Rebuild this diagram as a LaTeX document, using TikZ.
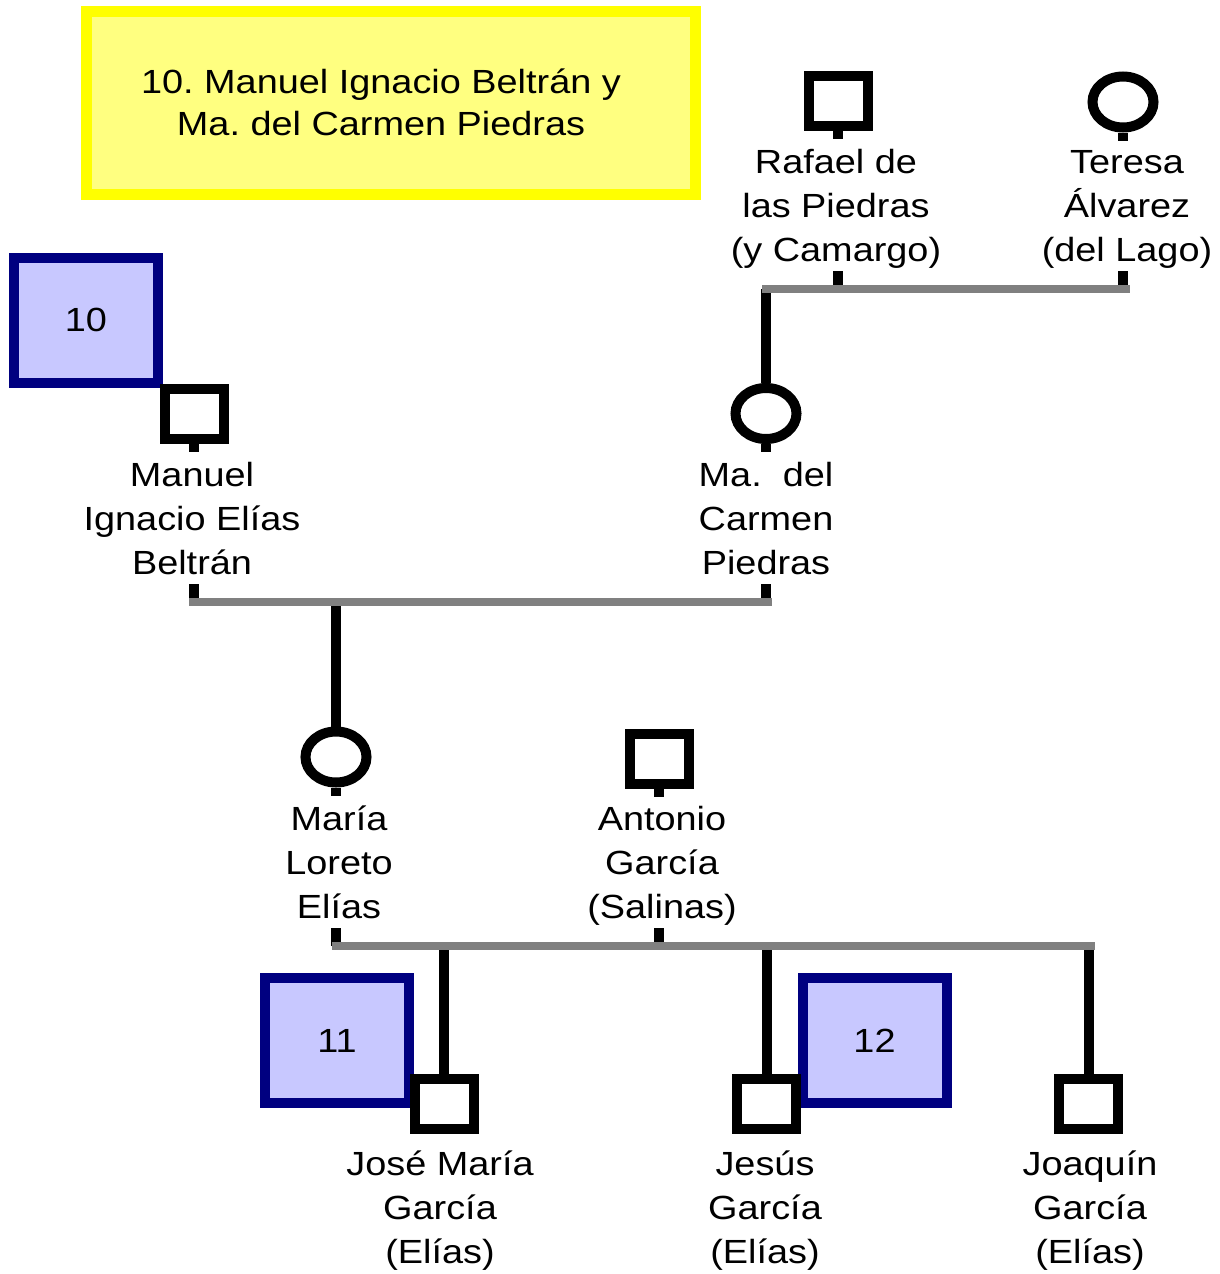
\documentclass[tikz,border=0pt]{standalone}
\usepackage{fontspec}
\setmainfont{Liberation Sans}[FakeStretch=1.13]
\usetikzlibrary{shapes.geometric}
\definecolor{navy}{HTML}{000080}
\definecolor{lav}{HTML}{C8C8FF}
\definecolor{ttlline}{HTML}{FFFF00}
\definecolor{ttlfill}{HTML}{FFFF80}
\definecolor{bar}{HTML}{808080}
\frenchspacing
\tikzset{
  male/.style={draw=black,line width=10pt,fill=white,minimum width=59pt,minimum height=50pt,inner sep=0pt},
  female/.style={ellipse,draw=black,line width=10pt,fill=white,minimum width=61pt,minimum height=51pt,inner sep=0pt},
  refbox/.style={draw=navy,line width=10pt,fill=lav,minimum width=144pt,minimum height=125pt,inner sep=0pt},
  titlebox/.style={draw=ttlline,line width=11pt,fill=ttlfill,minimum width=609pt,minimum height=183pt,inner sep=0pt},
  lbl/.style={align=center,inner sep=0pt,anchor=base},
  kin/.style={line width=10pt,draw=black},
  union/.style={line width=8pt,draw=bar},
}

\begin{document}
\begin{tikzpicture}[x=1pt,y=-1pt, every node/.style={font=\fontsize{33.5}{44}\selectfont}]
\useasboundingbox (0,0) rectangle (1220,1274);
% title and reference boxes
\node[titlebox] (ttl) at (391,103) {};
\node[lbl] (ttl-l) at (381,135) {10. Manuel Ignacio Beltrán y\\[-2pt]Ma. del Carmen Piedras};
\node[refbox] (r10) at (86,320) {10};
\node[refbox] (r11) at (337,1040.5) {11};
\node[refbox] (r12) at (874.5,1040.5) {12};

% grandparents
\node[male] (rafael) at (838,101) {};
\node[lbl] (rafael-l) at (836,261) {Rafael de\\las Piedras\\(y Camargo)};
\node[female] (teresa) at (1123,102) {};
\node[lbl] (teresa-l) at (1127,261) {Teresa\\Álvarez\\(del Lago)};

% parents
\node[male] (manuel) at (194,414) {};
\node[lbl] (manuel-l) at (192,574) {Manuel\\Ignacio Elías\\Beltrán};
\node[female] (carmen) at (766,413.5) {};
\node[lbl] (carmen-l) at (766,574) {Ma.\ \ del\\Carmen\\Piedras};

% couple
\node[female] (maria) at (336,757) {};
\node[lbl] (maria-l) at (339,918) {María\\Loreto\\Elías};
\node[male] (antonio) at (659,759) {};
\node[lbl] (antonio-l) at (662,918) {Antonio\\García\\(Salinas)};

% children
\node[male] (jose) at (444,1103.5) {};
\node[lbl] (jose-l) at (440,1263) {José María\\García\\(Elías)};
\node[male] (jesus) at (766.5,1103.5) {};
\node[lbl] (jesus-l) at (765,1263) {Jesús\\García\\(Elías)};
\node[male] (joaquin) at (1088.5,1103.5) {};
\node[lbl] (joaquin-l) at (1090,1263) {Joaquín\\García\\(Elías)};

% union bars
\coordinate (b1l) at (762,289);
\coordinate (b1r) at (1130,289);
\coordinate (b2l) at (189,602);
\coordinate (b2r) at (772,602);
\coordinate (b3l) at (332,946);
\coordinate (b3r) at (1095,946);

% stubs
\foreach \p/\b in {rafael/b1l,teresa/b1l,manuel/b2l,carmen/b2l,maria/b3l,antonio/b3l}{
  \draw[kin] (\p.south) -- ++(0,8);
  \draw[kin] (\p.south |- \b) -- ++(0,-18);
}
% descent lines
\draw[kin] (carmen.north) -- (carmen.north |- b1l);
\draw[kin] (maria.north) -- (maria.north |- b2l);
\foreach \c in {jose,jesus,joaquin}
  \draw[kin] (\c.north) -- (\c.north |- b3l);

\draw[union] (b1l) -- (b1r);
\draw[union] (b2l) -- (b2r);
\draw[union] (b3l) -- (b3r);
\end{tikzpicture}
\end{document}
